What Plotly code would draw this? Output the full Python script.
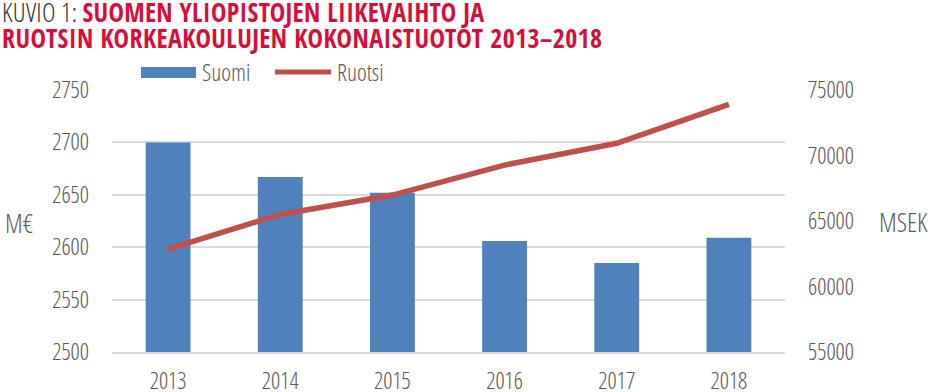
import plotly.graph_objects as go

years = ["2013", "2014", "2015", "2016", "2017", "2018"]
suomi = [2700, 2667, 2652, 2606, 2585, 2609]          # M€
ruotsi = [62850, 65500, 66980, 69270, 70930, 73900]   # MSEK

title_prefix = "KUVIO 1: "
title_line1 = "SUOMEN YLIOPISTOJEN LIIKEVAIHTO JA"
title_line2 = "RUOTSIN KORKEAKOULUJEN KOKONAISTUOTOT 2013\u20132018"
left_title = "M\u20ac"
right_title = "MSEK"

W, H = 932, 392
L, R, T, B = 112, 147, 90, 40
PW, PH = W - L - R, H - T - B

def px(x):
    return (x - L) / PW

def py(y):
    return (H - B - y) / PH

FB = "Open Sans Condensed, Open Sans, sans-serif"          # bold condensed
FA = "Open Sans Condensed Light, Open Sans, sans-serif"    # light condensed
BLUE = "#4f81bd"
RED = "#c0504d"
TITLE_RED = "#d50f3c"
GRAY = "#595959"
GRID = "#d9d9d9"

fig = go.Figure()
fig.add_trace(go.Bar(x=years, y=suomi, name="Suomi", marker_color=BLUE,
                     marker_line_width=0, showlegend=False, yaxis="y"))
fig.add_trace(go.Scatter(x=years, y=ruotsi, name="Ruotsi", mode="lines",
                         line=dict(color=RED, width=5.5), showlegend=False,
                         yaxis="y2"))

fig.update_layout(
    width=W, height=H,
    margin=dict(l=L, r=R, t=T, b=B),
    paper_bgcolor="white", plot_bgcolor="white",
    bargap=0.6,
    font=dict(family=FA, size=23, color=GRAY),
    xaxis=dict(type="category", showgrid=False, showline=True, linecolor=GRID,
               linewidth=2, ticks="", ticklabelstandoff=7, automargin=False,
               tickfont=dict(family=FA, size=23, color=GRAY)),
    yaxis=dict(range=[2500, 2750], dtick=50, showgrid=True, gridcolor=GRID,
               gridwidth=2, zeroline=False, ticks="", ticklabelstandoff=22,
               automargin=False,
               tickfont=dict(family=FA, size=23, color=GRAY)),
    yaxis2=dict(range=[55000, 75000], dtick=5000, overlaying="y", side="right",
                showgrid=False, zeroline=False, ticks="", ticklabelstandoff=22,
                tickformat="d", automargin=False,
                tickfont=dict(family=FA, size=23, color=GRAY)),
)

# Title (two lines)
fig.add_annotation(xref="paper", yref="paper", x=px(0), y=py(12),
                   xanchor="left", yanchor="middle", showarrow=False,
                   text=f"<span style='color:#333333;font-family:Open Sans Condensed Light, Open Sans, sans-serif;letter-spacing:0.3px'>{title_prefix}</span>"
                        f"<span style='letter-spacing:0.3px'><b>{title_line1}</b></span>",
                   font=dict(family=FB, size=26, color=TITLE_RED))
fig.add_annotation(xref="paper", yref="paper", x=px(0), y=py(37.5),
                   xanchor="left", yanchor="middle", showarrow=False,
                   text=f"<span style='letter-spacing:0.4px'><b>{title_line2}</b></span>",
                   font=dict(family=FB, size=26, color=TITLE_RED))

# Axis titles
fig.add_annotation(xref="paper", yref="paper", x=px(3), y=py(223),
                   xanchor="left", yanchor="middle", showarrow=False,
                   text=left_title, font=dict(family=FA, size=26, color=GRAY))
fig.add_annotation(xref="paper", yref="paper", x=px(877), y=py(222),
                   xanchor="left", yanchor="middle", showarrow=False,
                   text=right_title, font=dict(family=FA, size=26, color=GRAY))

# Legend
fig.add_shape(type="rect", xref="paper", yref="paper",
              x0=px(141), x1=px(196), y0=py(78), y1=py(67),
              fillcolor=BLUE, line_width=0)
fig.add_annotation(xref="paper", yref="paper", x=px(200), y=py(72),
                   xanchor="left", yanchor="middle", showarrow=False,
                   text="Suomi", font=dict(family=FA, size=23.5, color=GRAY))
fig.add_shape(type="line", xref="paper", yref="paper",
              x0=px(275), x1=px(331), y0=py(72), y1=py(72),
              line=dict(color=RED, width=5))
fig.add_annotation(xref="paper", yref="paper", x=px(335), y=py(72),
                   xanchor="left", yanchor="middle", showarrow=False,
                   text="Ruotsi", font=dict(family=FA, size=23.5, color=GRAY))

fig.write_html("out.html", config={"displayModeBar": False},
               post_script="document.body.style.margin='0';document.body.style.overflow='hidden';")
